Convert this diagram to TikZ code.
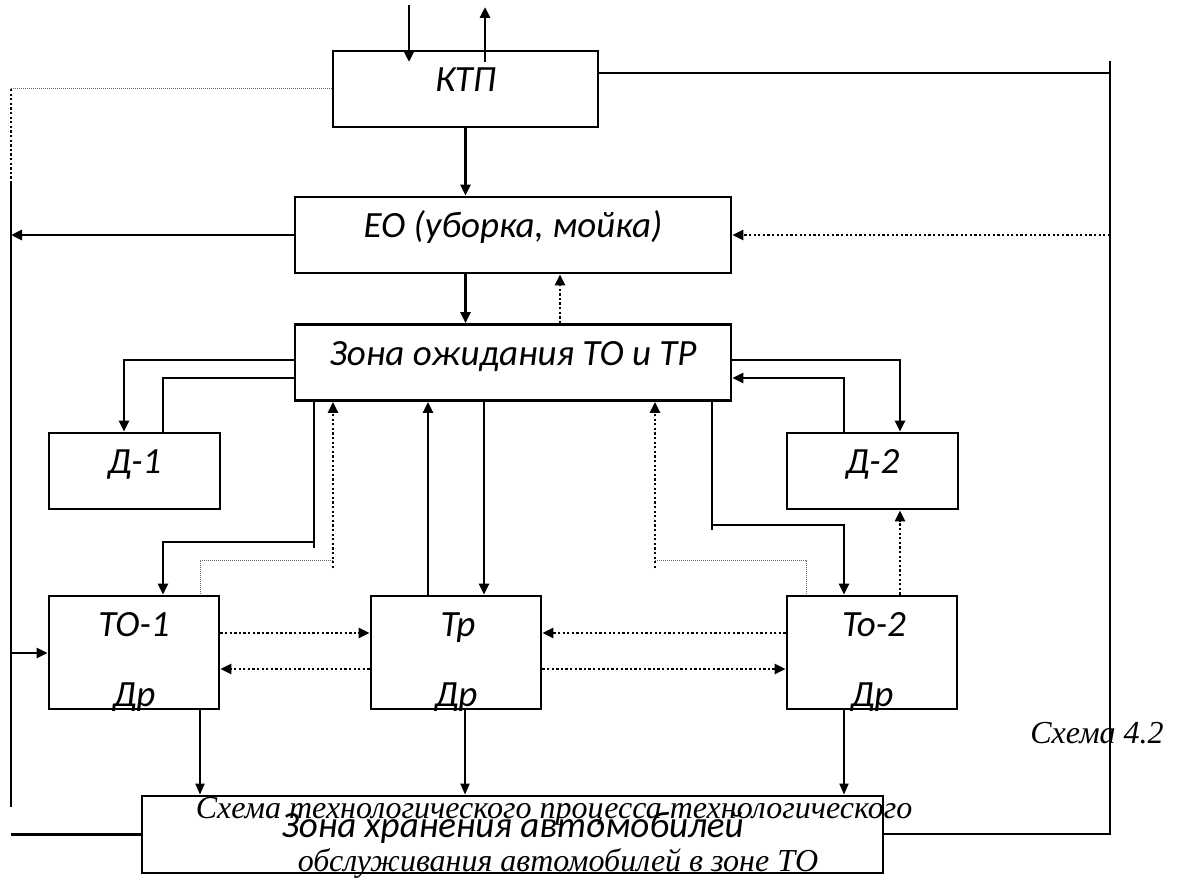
\documentclass[tikz,border=0pt]{standalone}
\usepackage{fontspec}
\setmainfont{Carlito}
\newfontfamily\capfont{Liberation Serif}
\usetikzlibrary{arrows.meta}

\begin{document}
\begin{tikzpicture}[x=1pt, y=-1pt,
        box/.style={draw, line width=2.8pt, inner sep=0pt, text height=25pt, text depth=20pt,
            font=\itshape\fontsize{37}{40}\selectfont},
        lbl/.style={anchor=base, inner sep=0pt, font=\itshape\fontsize{37}{40}\selectfont},
        note/.style={anchor=base, inner sep=0pt, font=\capfont\itshape\fontsize{32}{34}\selectfont},
        ln/.style={line width=2.8pt},
        arr/.style={ln, -{Triangle[length=11pt,width=10pt]}},
        dot/.style={line width=2.8pt, dash pattern=on 2.3pt off 2.3pt},
        darr/.style={dot, -{Triangle[length=11pt,width=10pt]}},
        fine/.style={line width=1pt, black!60, dash pattern=on 1pt off 1pt},
        tarr/.style={line width=1.8pt, -{Triangle[length=11pt,width=9pt]}}]
    \useasboundingbox (0,0) rectangle (1182,880);

    % boxes
    \node[box, minimum width=265pt, minimum height=76pt] (ktp) at (465.5, 89) {КТП};
    \node[box, minimum width=436pt, minimum height=76pt] (eo) at (513, 235) {ЕО (уборка, мойка)};
    \node[box, minimum width=436pt, minimum height=76pt] (wait) at (513, 362.5) {Зона ожидания ТО и ТР};
    \node[box, minimum width=171pt, minimum height=76pt] (d1) at (134.5, 471) {Д-1};
    \node[box, minimum width=171pt, minimum height=76pt] (d2) at (872.5, 471) {Д-2};
    \node[box, minimum width=170pt, minimum height=113pt] (to1) at (134, 652.5) {};
    \node[box, minimum width=170pt, minimum height=113pt] (tr) at (456, 652.5) {};
    \node[box, minimum width=170pt, minimum height=113pt] (to2) at (872, 652.5) {};
    \node[box, minimum width=741pt, minimum height=77pt] (store) at (512.5, 834.5) {Зона хранения автомобилей};

    \node[lbl] (to1n) at (134, 636) {ТО-1};
    \node[lbl] (trn) at (458, 636) {Тр};
    \node[lbl] (to2n) at (874, 636) {То-2};
    \foreach \b in {to1, tr, to2} {
        \begin{scope}
            \clip (\b.south west) rectangle (\b.north east);
            \node[lbl] (\b p) at ([yshift=4pt]\b.south) {Др};
        \end{scope}
    }

    % free ends
    \coordinate (kin) at (409, 5);
    \coordinate (kout) at (485, 7);
    \coordinate (rt) at (1110, 61);
    \coordinate (rb) at (1110, 834);
    \coordinate (lt) at (11, 89);
    \coordinate (lm) at (11, 182);
    \coordinate (lb) at (11, 807);
    \coordinate (j1) at (314, 542);
    \coordinate (j1e) at (314, 548);
    \coordinate (j2) at (712, 525);
    \coordinate (j2e) at (712, 530);
    \coordinate (q1) at (333, 568);
    \coordinate (q1b) at (333, 560);
    \coordinate (q2) at (655, 568);
    \coordinate (q2b) at (655, 560);

    % KTP
    \draw[arr] (kin) -- (kin |- 0,62);
    \draw[arr] (kout |- 0,62) -- (kout);
    \draw[ln] (ktp.east |- 0,73) -- (rt |- 0,73);
    \draw[ln] (rt) -- (rb) -- (store.east |- rb);
    \draw[fine] (ktp.west) -- (lt);
    \draw[dot] (lt) -- (lt |- eo.west);
    \draw[arr] (ktp.south) -- (ktp.south |- eo.north);

    % EO
    \draw[ln] (lm) -- (lb);
    \draw[arr] (eo.west) -- (lm |- eo.west);
    \draw[darr] (rt |- eo.east) -- (eo.east);
    \draw[arr] (ktp.south |- eo.south) -- (ktp.south |- wait.north);
    \draw[darr] (wait.north -| 560,0) -- (eo.south -| 560,0);

    % D-1, D-2
    \draw[arr] (wait.west |- 0,360) -| (d1.north -| 124,0);
    \draw[ln] (d1.north -| 163,0) |- (wait.west |- 0,378);
    \draw[arr] (wait.east |- 0,360) -| (d2.north -| 900,0);
    \draw[arr] (d2.north -| 844,0) |- (wait.east |- 0,378);

    % TO-1, Tr, To-2
    \draw[ln] (wait.south -| j1) -- (j1e);
    \draw[arr] (j1) -| (to1.north -| 163,0);
    \draw[darr] (q1) -- (wait.south -| q1);
    \draw[fine] (q1b) -| (to1.north -| 200,0);
    \draw[arr] (tr.north -| 428,0) -- (wait.south -| 428,0);
    \draw[arr] (wait.south -| 484,0) -- (tr.north -| 484,0);
    \draw[ln] (wait.south -| j2) -- (j2e);
    \draw[arr] (j2) -| (to2.north -| 844,0);
    \draw[darr] (q2) -- (wait.south -| q2);
    \draw[fine] (q2b) -| (to2.north -| 806,0);
    \draw[darr] (to2.north -| 900,0) -- (d2.south -| 900,0);

    \draw[darr] (to1.east |- 0,633) -- (tr.west |- 0,633);
    \draw[darr] (tr.west |- 0,669) -- (to1.east |- 0,669);
    \draw[darr] (to2.west |- 0,633) -- (tr.east |- 0,633);
    \draw[darr] (tr.east |- 0,669) -- (to2.west |- 0,669);
    \draw[arr] (lm |- 0,653) -- (to1.west |- 0,653);

    % storage
    \draw[ln] (lb |- store.west) -- (store.west);
    \foreach \b/\x in {to1/200, tr/465, to2/844}
        \draw[tarr] (\b.south -| \x,0) -- (store.north -| \x,0);

    % captions
    \node[note] (capa) at (554, 818) {Схема технологического процесса технологического};
    \node[note] (capb) at (558, 871) {обслуживания автомобилей в зоне ТО};
    \node[note] (capn) at (1097, 743) {Схема 4.2};
\end{tikzpicture}
\end{document}
